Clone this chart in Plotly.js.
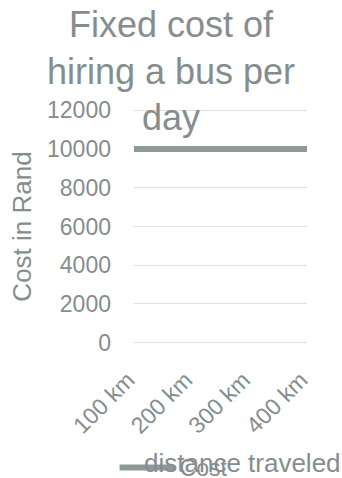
<!DOCTYPE html>
<html>
<head>
<meta charset="utf-8">
<script src="https://cdn.plot.ly/plotly-3.0.1.min.js"></script>
<style>html,body{margin:0;padding:0;background:#fff;}#chart{width:342px;height:478px;}</style>
</head>
<body>
<div id="chart"></div>
<script>
var categories = ["100 km", "200 km", "300 km", "400 km"];
var costValues = [10000, 10000, 10000, 10000];
var seriesName = "Cost";
var yTickValues = [0, 2000, 4000, 6000, 8000, 10000, 12000];
var yTickLabels = ["0", "2000", "4000", "6000", "8000", "10000", "12000"];

var textColor = "#858d8e";
var font = "'Liberation Sans', Arial, sans-serif";

var trace = {
  x: categories,
  y: costValues,
  name: seriesName,
  type: "scatter",
  mode: "lines",
  line: {color: "#8e9999", width: 6},
  showlegend: true
};

var layout = {
  width: 342,
  height: 478,
  margin: {l: 134, r: 35, t: 108, b: 133},
  paper_bgcolor: "#ffffff",
  plot_bgcolor: "#ffffff",
  font: {family: font, color: textColor},
  title: {
    text: "Fixed cost of<br>hiring a bus per<br>day",
    font: {size: 36, color: textColor, family: font},
    x: 0.5, xref: "container", xanchor: "center",
    y: 0.923, yref: "container", yanchor: "top"
  },
  xaxis: {
    type: "category",
    range: [0, categories.length - 1],
    tickangle: -45,
    tickfont: {size: 23, color: textColor},
    showgrid: false,
    zeroline: false,
    showline: false,
    ticks: "",
    ticklabelstandoff: 16,
    ticklabelshift: -6
  },
  yaxis: {
    range: [-120, 12120],
    tickvals: yTickValues,
    ticktext: yTickLabels,
    tickfont: {size: 23, color: textColor},
    showgrid: true,
    gridcolor: "#e0e0e0",
    gridwidth: 1,
    zeroline: false,
    showline: false,
    ticks: "",
    ticklabelstandoff: 22,
    title: {text: "Cost in Rand", font: {size: 26, color: textColor}, standoff: 7}
  },
  showlegend: true,
  legend: {
    orientation: "h",
    x: 0.335, xref: "container", xanchor: "left",
    y: 0.022, yref: "container", yanchor: "middle",
    font: {size: 23, color: textColor},
    itemwidth: 55,
    bgcolor: "rgba(0,0,0,0)"
  },
  annotations: [{
    text: "distance traveled",
    xref: "paper", yref: "paper",
    x: 0.047, xanchor: "left",
    y: -0.497, yanchor: "middle",
    showarrow: false,
    font: {size: 26, color: textColor}
  }]
};

Plotly.newPlot("chart", [trace], layout, {displayModeBar: false, staticPlot: true});
</script>
</body>
</html>
